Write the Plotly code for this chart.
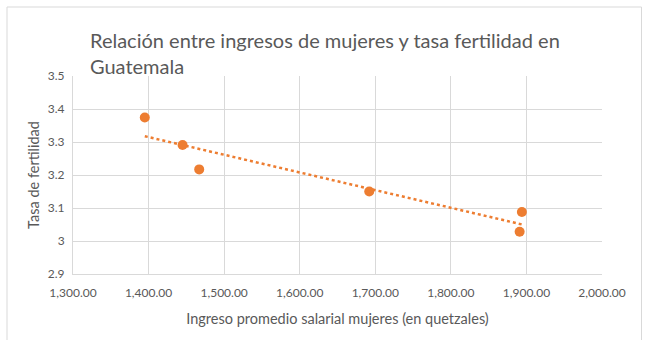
import numpy as np
import plotly.graph_objects as go

# Average monthly salary of women (quetzales) and fertility rate
ingreso = [1395, 1445, 1467, 1692, 1894, 1891]
fertilidad = [3.374, 3.291, 3.217, 3.150, 3.088, 3.028]

x_ticks = [1300, 1400, 1500, 1600, 1700, 1800, 1900, 2000]
y_ticks = [2.9, 3.0, 3.1, 3.2, 3.3, 3.4, 3.5]
y_tick_text = ["2.9", "3", "3.1", "3.2", "3.3", "3.4", "3.5"]

ORANGE = "#ED7D31"
GREY_TXT = "#595959"
GRID = "#d9d9d9"
FONT = "Lato"

# Linear trendline fitted over the data range
m, b = np.polyfit(ingreso, fertilidad, 1)
tx = np.array([min(ingreso), max(ingreso)])
ty = m * tx + b

fig = go.Figure()
fig.add_trace(go.Scatter(
    x=tx, y=ty, mode="lines",
    line=dict(color=ORANGE, width=2.5, dash="dot"),
    hoverinfo="skip", showlegend=False,
))
fig.add_trace(go.Scatter(
    x=ingreso, y=fertilidad, mode="markers",
    marker=dict(color=ORANGE, size=10),
    showlegend=False,
))

L, R, T, B = 73, 48, 76, 76
W, H = 650, 350
pw, ph = W - L - R, H - T - B

def px_x(p):
    return (p - L) / pw

def px_y(p):
    return (H - B - p) / ph

# Outer chart frame
frame = dict(type="line", xref="paper", yref="paper",
             line=dict(color=GRID, width=1), layer="below")
x0, x1 = px_x(7), px_x(641.5)
y0, y1 = px_y(340), px_y(7)
fig.add_shape(**frame, x0=x0, x1=x0, y0=y0, y1=y1)
fig.add_shape(**frame, x0=x1, x1=x1, y0=y0, y1=y1)
fig.add_shape(**frame, x0=x0, x1=x1, y0=y1, y1=y1)

fig.add_annotation(
    xref="paper", yref="paper", x=px_x(88), y=px_y(26),
    xanchor="left", yanchor="top", align="left", showarrow=False,
    text="Relación entre ingresos de mujeres y tasa fertilidad en<br>Guatemala",
    font=dict(family=FONT, size=20, color=GREY_TXT),
)

fig.update_layout(
    width=W, height=H,
    margin=dict(l=L, r=R, t=T, b=B),
    paper_bgcolor="white", plot_bgcolor="white",
    font=dict(family=FONT, size=12, color=GREY_TXT),
    xaxis=dict(
        range=[1300, 2000], tickvals=x_ticks, tickformat=",.2f",
        showgrid=True, gridcolor=GRID, gridwidth=1,
        showline=True, linecolor=GRID, linewidth=1, zeroline=False,
        ticks="", ticklen=0, ticklabelstandoff=8,
        title=dict(text="Ingreso promedio salarial mujeres (en quetzales)",
                   font=dict(size=14.5, color=GREY_TXT), standoff=14),
        tickfont=dict(size=12, color=GREY_TXT),
    ),
    yaxis=dict(
        range=[2.9, 3.5], tickvals=y_ticks, ticktext=y_tick_text,
        showgrid=True, gridcolor=GRID, gridwidth=1,
        showline=True, linecolor=GRID, linewidth=1, zeroline=False,
        ticks="", ticklen=0, ticklabelstandoff=5,
        title=dict(text="Tasa de fertilidad",
                   font=dict(size=14.5, color=GREY_TXT), standoff=4),
        tickfont=dict(size=12, color=GREY_TXT),
    ),
)

fig.write_html("out.html")
